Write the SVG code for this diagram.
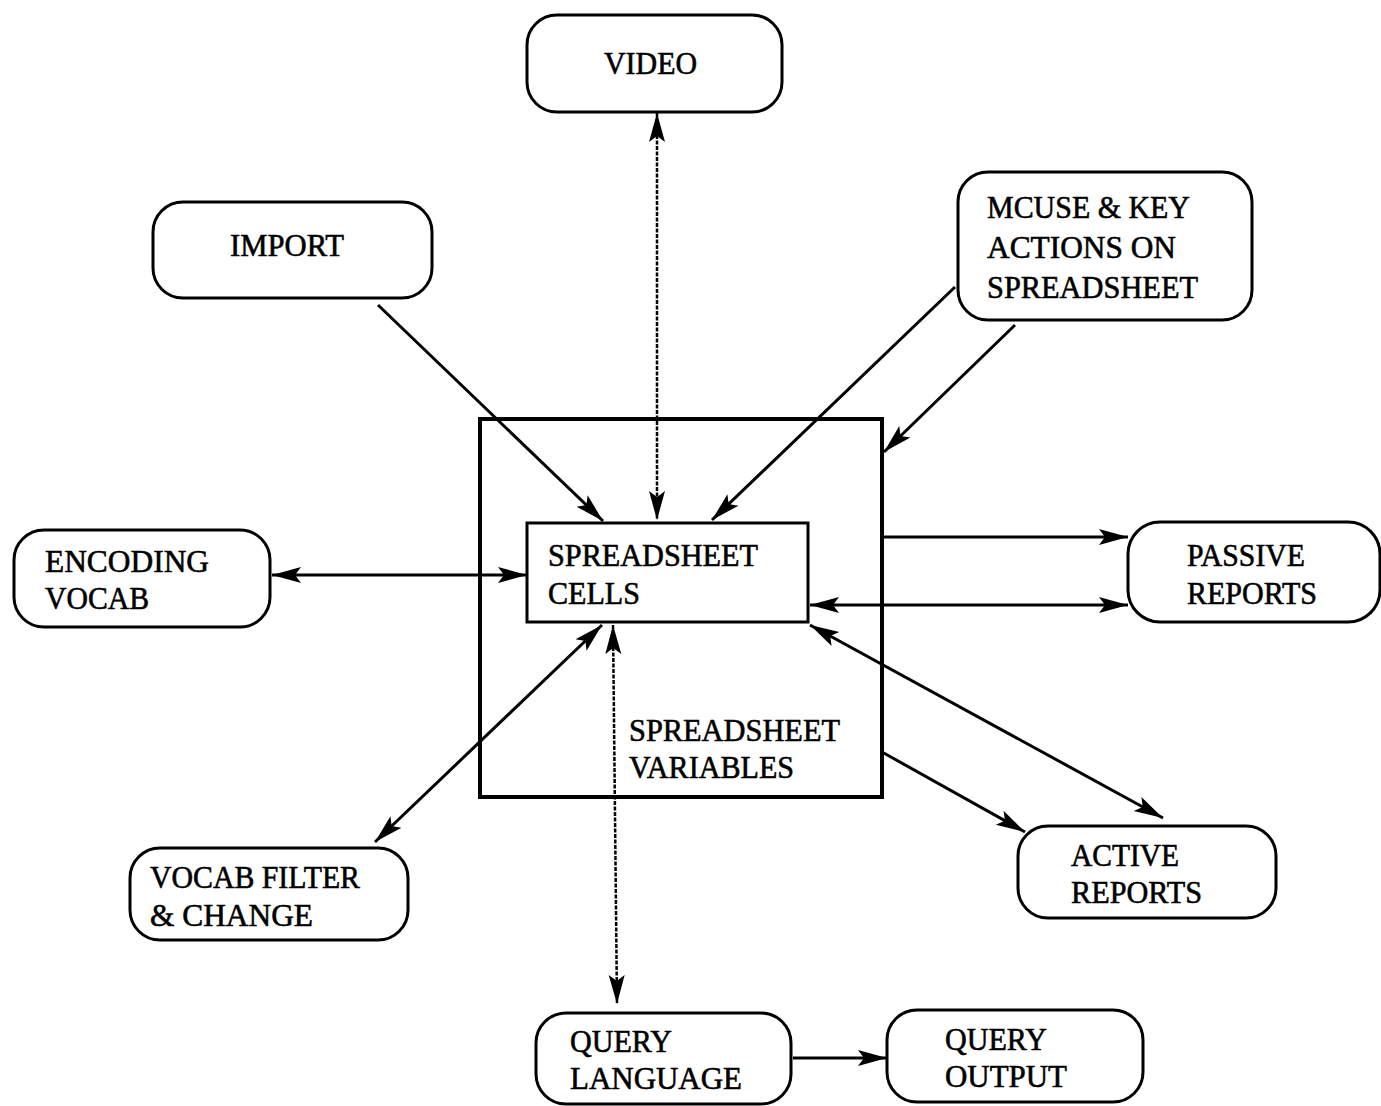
<svg xmlns="http://www.w3.org/2000/svg" width="1381" height="1106" viewBox="0 0 1381 1106">
<style>
.node{fill:#fff;stroke:#000;stroke-width:3}
.outer{fill:none;stroke:#000;stroke-width:4}
.t{font-family:"Liberation Serif","Times New Roman",serif;font-size:32px;fill:#000;stroke:#000;stroke-width:0.6}
.c{fill:none;stroke:#000;stroke-width:3}
.thin{fill:none;stroke:#000;stroke-width:2.5;stroke-dasharray:4 1.5}
</style>
<defs>
<marker id="ah" markerUnits="userSpaceOnUse" markerWidth="32" markerHeight="22" refX="29" refY="10" orient="auto-start-reverse">
<path d="M0,2 L29,10 L0,18 L6,10 Z" fill="#000"/>
</marker>
</defs>
<rect x="0" y="0" width="1381" height="1106" fill="#fff"/>
<g id="connectors">
<line class="thin" x1="657" y1="113" x2="657" y2="520" marker-start="url(#ah)" marker-end="url(#ah)"/>
<line class="c" x1="378" y1="305" x2="603" y2="521" marker-end="url(#ah)"/>
<line class="c" x1="955" y1="287" x2="712" y2="520" marker-end="url(#ah)"/>
<line class="c" x1="1015" y1="325" x2="884" y2="452" marker-end="url(#ah)"/>
<line class="c" x1="272" y1="575" x2="527" y2="575" marker-start="url(#ah)" marker-end="url(#ah)"/>
<line class="c" x1="882" y1="537" x2="1128" y2="537" marker-end="url(#ah)"/>
<line class="c" x1="810" y1="605" x2="1128" y2="605" marker-start="url(#ah)" marker-end="url(#ah)"/>
<line class="c" x1="810" y1="625" x2="1163" y2="818" marker-start="url(#ah)" marker-end="url(#ah)"/>
<line class="c" x1="882" y1="752" x2="1025" y2="832" marker-end="url(#ah)"/>
<line class="c" x1="602" y1="625" x2="375" y2="842" marker-start="url(#ah)" marker-end="url(#ah)"/>
<line class="thin" x1="613" y1="625" x2="617" y2="1004" marker-start="url(#ah)" marker-end="url(#ah)"/>
<line class="c" x1="793" y1="1058" x2="887" y2="1058" marker-end="url(#ah)"/>
</g>
<g id="spreadsheet">
<rect class="outer" x="480" y="419" width="402" height="378"/>
<text class="t" x="629" y="741" textLength="211" lengthAdjust="spacingAndGlyphs">SPREADSHEET</text>
<text class="t" x="629" y="778" textLength="165" lengthAdjust="spacingAndGlyphs">VARIABLES</text>
</g>
<g id="cells">
<rect class="node" x="527" y="523" width="281" height="99"/>
<text class="t" x="548" y="566" textLength="210" lengthAdjust="spacingAndGlyphs">SPREADSHEET</text>
<text class="t" x="548" y="604" textLength="92" lengthAdjust="spacingAndGlyphs">CELLS</text>
</g>
<g id="video">
<rect class="node" x="527" y="15" width="255" height="97" rx="30"/>
<text class="t" x="604" y="74" textLength="93" lengthAdjust="spacingAndGlyphs">VIDEO</text>
</g>
<g id="import">
<rect class="node" x="153" y="202" width="279" height="96" rx="30"/>
<text class="t" x="230" y="256" textLength="114" lengthAdjust="spacingAndGlyphs">IMPORT</text>
</g>
<g id="mouse">
<rect class="node" x="958" y="172" width="294" height="148" rx="30"/>
<text class="t" x="987" y="218" textLength="203" lengthAdjust="spacingAndGlyphs">MCUSE &amp; KEY</text>
<text class="t" x="987" y="258" textLength="189" lengthAdjust="spacingAndGlyphs">ACTIONS ON</text>
<text class="t" x="987" y="298" textLength="211" lengthAdjust="spacingAndGlyphs">SPREADSHEET</text>
</g>
<g id="encoding">
<rect class="node" x="14" y="530" width="256" height="97" rx="30"/>
<text class="t" x="45" y="572" textLength="164" lengthAdjust="spacingAndGlyphs">ENCODING</text>
<text class="t" x="45" y="609" textLength="104" lengthAdjust="spacingAndGlyphs">VOCAB</text>
</g>
<g id="passive">
<rect class="node" x="1128" y="522" width="252" height="100" rx="32"/>
<text class="t" x="1187" y="566" textLength="118" lengthAdjust="spacingAndGlyphs">PASSIVE</text>
<text class="t" x="1187" y="604" textLength="130" lengthAdjust="spacingAndGlyphs">REPORTS</text>
</g>
<g id="active">
<rect class="node" x="1018" y="826" width="258" height="92" rx="30"/>
<text class="t" x="1071" y="866" textLength="108" lengthAdjust="spacingAndGlyphs">ACTIVE</text>
<text class="t" x="1071" y="903" textLength="131" lengthAdjust="spacingAndGlyphs">REPORTS</text>
</g>
<g id="vocabfilter">
<rect class="node" x="130" y="848" width="278" height="92" rx="30"/>
<text class="t" x="150" y="888" textLength="210" lengthAdjust="spacingAndGlyphs">VOCAB FILTER</text>
<text class="t" x="150" y="926" textLength="163" lengthAdjust="spacingAndGlyphs">&amp; CHANGE</text>
</g>
<g id="querylanguage">
<rect class="node" x="536" y="1013" width="255" height="91" rx="30"/>
<text class="t" x="570" y="1052" textLength="102" lengthAdjust="spacingAndGlyphs">QUERY</text>
<text class="t" x="570" y="1089" textLength="172" lengthAdjust="spacingAndGlyphs">LANGUAGE</text>
</g>
<g id="queryoutput">
<rect class="node" x="887" y="1010" width="256" height="92" rx="30"/>
<text class="t" x="945" y="1050" textLength="102" lengthAdjust="spacingAndGlyphs">QUERY</text>
<text class="t" x="945" y="1087" textLength="122" lengthAdjust="spacingAndGlyphs">OUTPUT</text>
</g>
</svg>
